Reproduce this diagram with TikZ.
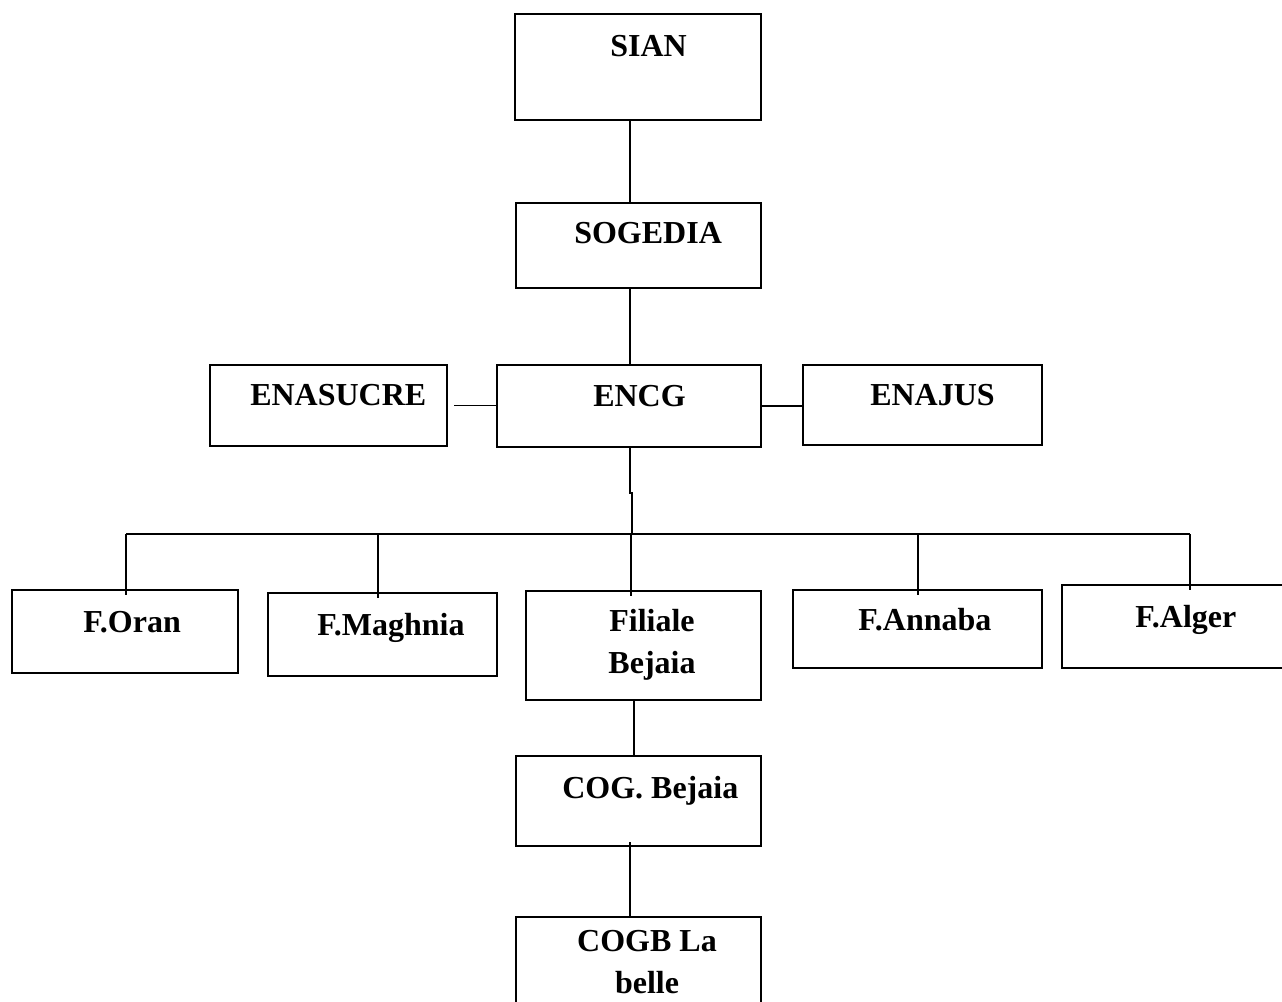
\documentclass[tikz,border=0pt]{standalone}
\usepackage{fontspec}
\setmainfont{Liberation Serif}
\usetikzlibrary{positioning}

\begin{document}
\begin{tikzpicture}[
    x=0.75pt, y=-0.75pt,
    unit/.style 2 args={
        draw, rectangle, inner sep=0pt, line width=1.5pt,
        minimum width=#1*0.75pt, minimum height=#2*0.75pt
    },
    lbl/.style={
        inner sep=0pt, font=\fontsize{24}{31.5}\selectfont\bfseries, align=center
    },
    link/.style={line width=1.2pt}
]

\clip (0,0) rectangle (1282,1001);

% boxes
\node[unit={246}{106}] (Sian) at (638,67) {};
\node[unit={245}{85}] (Sogedia) at (638.5,245.5) {};
\node[unit={264}{82}] (Encg) at (629,406) {};
\node[unit={237}{81}] (Enasucre) at (328.5,405.5) {};
\node[unit={239}{80}] (Enajus) at (922.5,405) {};

\node[unit={226}{83}] (FOran) at (125,631.5) {};
\node[unit={229}{83}] (FMaghnia) at (382.5,634.5) {};
\node[unit={235}{109}] (Filiale) at (643.5,645.5) {};
\node[unit={249}{78}] (FAnnaba) at (917.5,629) {};
\node[unit={238}{83}] (FAlger) at (1181,626.5) {};

\node[unit={245}{90}] (Cog) at (638.5,801) {};
\node[unit={245}{93}] (Cogb) at (638.5,963.5) {};

% labels
\node[lbl, anchor=base west] (SianT) at (610,56) {SIAN};
\node[lbl, anchor=base west] (SogediaT) at (574,243) {SOGEDIA};
\node[lbl, anchor=base west] (EncgT) at (593,406) {ENCG};
\node[lbl, anchor=base west] (EnasucreT) at (250,405) {ENASUCRE};
\node[lbl, anchor=base west] (EnajusT) at (870,405) {ENAJUS};
\node[lbl, anchor=base west] (FOranT) at (83,632) {F.Oran};
\node[lbl, anchor=base west] (FMaghniaT) at (317,635) {F.Maghnia};
\node[lbl, anchor=base] (FilialeT) at (652,673) {Filiale\\Bejaia};
\node[lbl, anchor=base west] (FAnnabaT) at (858,630) {F.Annaba};
\node[lbl, anchor=base west] (FAlgerT) at (1135,627) {F.Alger};
\node[lbl, anchor=base west] (CogT) at (562,798) {COG. Bejaia};
\node[lbl, anchor=base] (CogbT) at (647,993) {COGB La\\belle};

% links
\coordinate (trunk) at (630,0);
\coordinate (bus) at (0,534);

\draw[link] (Sian.south -| trunk) -- (Sogedia.north -| trunk);
\draw[link] (Sogedia.south -| trunk) -- (Encg.north -| trunk);
\draw[link] ([xshift=4.5pt]Enasucre.east) -- (Encg.west |- Enasucre.east);
\draw[link] (Encg.east) -- (Enajus.west |- Encg.east);
\draw[link] (Encg.south -| trunk) -- ++(0,45) -- ++(2,0) -- (bus -| 632,0);

\draw[link] (bus -| 126,0) -- (bus -| 1190,0);
\foreach \n/\x in {FOran/126, FMaghnia/378, Filiale/631, FAnnaba/918, FAlger/1190}
    \draw[link] (bus -| \x,0) -- ([yshift=-4.5pt]\n.north -| \x,0);

\draw[link] (Filiale.south -| 634,0) -- (Cog.north -| 634,0);
\draw[link] ([yshift=3.75pt]Cog.south -| trunk) -- (Cogb.north -| trunk);

\end{tikzpicture}
\end{document}
